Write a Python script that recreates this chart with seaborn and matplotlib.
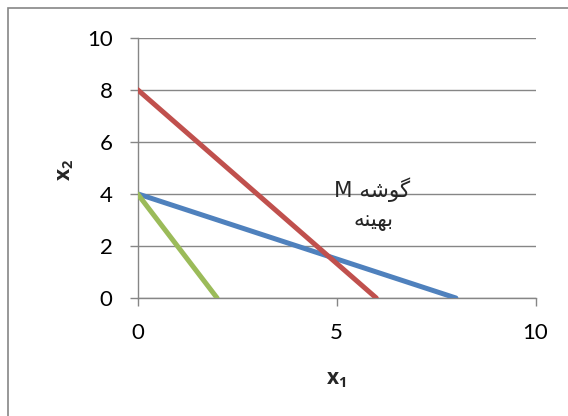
import matplotlib
matplotlib.use("Agg")
import matplotlib.pyplot as plt
from matplotlib.patches import Rectangle
import pandas as pd
import seaborn as sns

# Constraint lines (endpoints on each axis)
blue_x = [0, 8]
blue_y = [4, 0]
red_x = [0, 6]
red_y = [8, 0]
green_x = [0, 2]
green_y = [4, 0]

x_ticks = [0, 5, 10]
y_ticks = [0, 2, 4, 6, 8, 10]

# Annotation (pre-shaped Persian glyphs in visual order): "گوشه M" / "بهینه"
note_line1 = "M \uFEEA\uFEB7\uFEEE\uFB94"
note_line2 = "\uFEEA\uFEE8\uFBFF\uFEEC\uFE91"

sns.set_theme(style="white")
plt.rcParams["font.family"] = ["Lato", "DejaVu Sans"]

W, H = 568, 416
L, R, T, B = 137.5, 535.5, 37.5, 298
fig = plt.figure(figsize=(W / 100, H / 100), dpi=100)
ax = fig.add_axes([L / W, 1 - B / H, (R - L) / W, (B - T) / H])

series = [
    (blue_x, blue_y, "#4F81BD"),
    (red_x, red_y, "#C0504D"),
    (green_x, green_y, "#9BBB59"),
]
for xs, ys, col in series:
    df = pd.DataFrame({"x1": xs, "x2": ys})
    sns.lineplot(data=df, x="x1", y="x2", ax=ax, color=col, linewidth=3.6,
                 solid_capstyle="round", sort=False, zorder=3)

ax.set_xlim(0, 10)
ax.set_ylim(0, 10)
ax.set_xticks(x_ticks)
ax.set_yticks(y_ticks)
ax.yaxis.grid(True, color="#868686", linewidth=1.0)
ax.xaxis.grid(False)
ax.set_axisbelow(True)

for side in ["top", "right"]:
    ax.spines[side].set_visible(False)
for side in ["left", "bottom"]:
    ax.spines[side].set_color("#868686")
    ax.spines[side].set_linewidth(1.0)

ax.tick_params(axis="both", which="both", direction="out", width=1.0,
               color="#868686", labelsize=16, labelcolor="black",
               left=True, bottom=True)
ax.tick_params(axis="x", length=6, pad=12)
ax.tick_params(axis="y", length=6, pad=12)

label_font = dict(fontsize=15, fontweight="bold", family=["Open Sans", "DejaVu Sans"])
ax.set_xlabel(r"$\mathregular{x_1}$", **label_font)
ax.set_ylabel(r"$\mathregular{x_2}$", **label_font)
ax.xaxis.set_label_coords((336 - L) / (R - L), -(380 - B) / (B - T))
ax.yaxis.set_label_coords(-(L - 66) / (R - L), (B - 170) / (B - T))
ax.xaxis.label.set_va("center")
ax.yaxis.label.set_va("center")

ax.text(5.9, 4.15, note_line1, ha="center", va="center", fontsize=15.5,
        family=["DejaVu Sans"], zorder=4)
ax.text(5.93, 2.95, note_line2, ha="center", va="center", fontsize=15.5,
        family=["DejaVu Sans"], zorder=4)

# Chart-area frame
fig.patches.append(Rectangle((8 / W, -0.1), 1.2, 1 - 8 / H + 0.1,
                             transform=fig.transFigure, fill=False,
                             edgecolor="#868686", linewidth=1.2))

fig.savefig("out.png", dpi=100)
